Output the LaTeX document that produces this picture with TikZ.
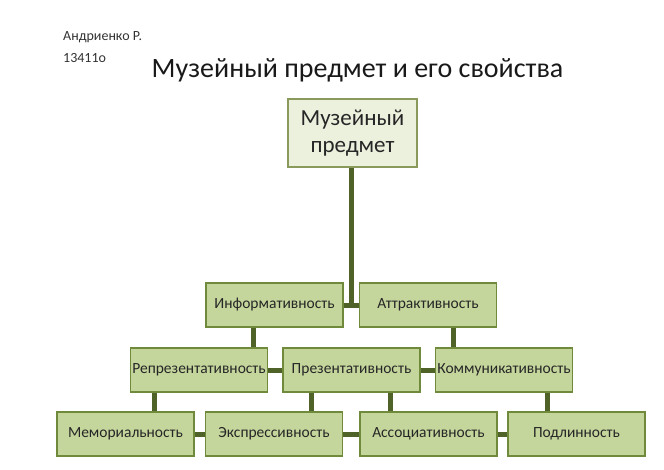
\documentclass[tikz,border=0pt]{standalone}
\usepackage{fontspec}
\setmainfont{Carlito}
\usetikzlibrary{calc}
\definecolor{boxfill}{HTML}{C4D69C}
\definecolor{boxline}{HTML}{6F8A3A}
\definecolor{topfill}{HTML}{ECF1DE}
\definecolor{topline}{HTML}{8A9A5B}
\definecolor{conn}{HTML}{4F6228}
\tikzset{
  prop/.style={draw=boxline, fill=boxfill, line width=1.2pt, minimum width=137pt, minimum height=44pt, inner sep=0pt, font=\fontsize{15.5}{18}\selectfont, text=black!85},
  topbox/.style={draw=topline, fill=topfill, line width=1.2pt, minimum width=129pt, minimum height=68pt, inner sep=0pt, align=center, font=\fontsize{23}{27}\selectfont, text=black!85},
  hdr/.style={anchor=base west, inner sep=0pt, font=\fontsize{14}{16}\selectfont, text=black!80},
  link/.style={draw=conn, line width=5pt}
}
\begin{document}
\begin{tikzpicture}[x=1pt,y=-1pt]
\useasboundingbox (0,0) rectangle (664,469);
\fill[white] (0,0) rectangle (664,469);
% headers
\node[hdr] (auth) at (63,40) {Андриенко Р.};
\node[hdr] (grp) at (63,62) {13411о};
\node[anchor=base, inner sep=0pt, font=\fontsize{28}{32}\selectfont, text=black!90] (title) at (357.5,77) {Музейный предмет и его свойства};
% boxes
\node[topbox] (mp) at (352.5,133) {Музейный\\предмет};
\node[prop] (inf) at (274.5,305) {Информативность};
\node[prop] (att) at (428,305) {Аттрактивность};
\node[prop] (rep) at (199,370) {Репрезентативность};
\node[prop] (pre) at (351.5,370) {Презентативность};
\node[prop] (kom) at (504,370) {Коммуникативность};
\node[prop] (mem) at (125.5,434) {Мемориальность};
\node[prop] (eks) at (274,434) {Экспрессивность};
\node[prop] (ass) at (428.5,434) {Ассоциативность};
\node[prop] (pod) at (576.5,434) {Подлинность};
% connector guides
\coordinate (j) at (351,305);
\coordinate (c1) at (253,0);
\coordinate (c2) at (453,0);
\coordinate (c3) at (154,0);
\coordinate (c4) at (311,0);
\coordinate (c5) at (390,0);
\coordinate (c6) at (547,0);
% connectors
\draw[link] (mp.south -| j) -- (j);
\draw[link] (inf.east) -- (att.west);
\draw[link] (inf.south -| c1) -- (rep.north -| c1);
\draw[link] (att.south -| c2) -- (kom.north -| c2);
\draw[link] (rep.east) -- (pre.west);
\draw[link] (pre.east) -- (kom.west);
\draw[link] (rep.south -| c3) -- (mem.north -| c3);
\draw[link] (pre.south -| c4) -- (eks.north -| c4);
\draw[link] (pre.south -| c5) -- (ass.north -| c5);
\draw[link] (kom.south -| c6) -- (pod.north -| c6);
\draw[link] (mem.east) -- (eks.west);
\draw[link] (eks.east) -- (ass.west);
\draw[link] (ass.east) -- (pod.west);
\end{tikzpicture}
\end{document}
